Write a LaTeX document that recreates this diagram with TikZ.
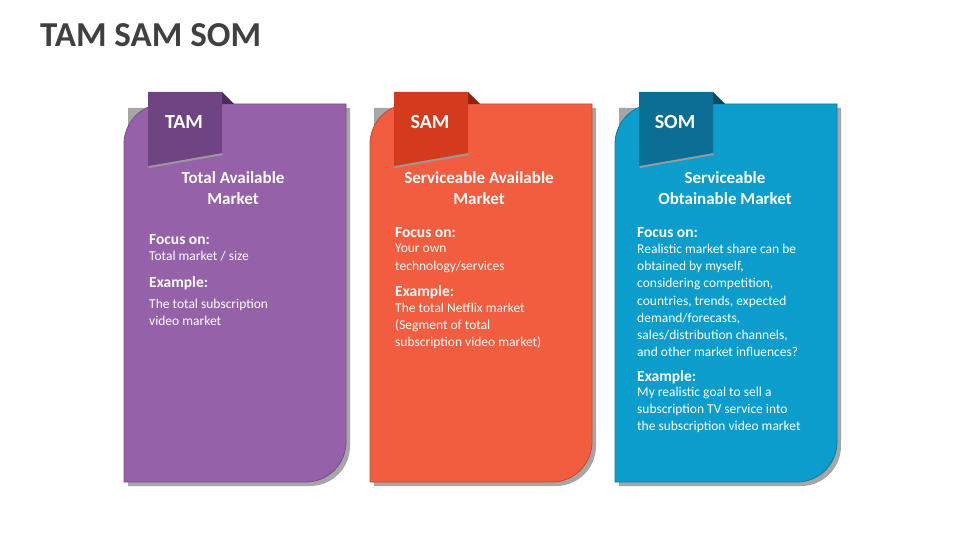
\documentclass[tikz,border=0pt]{standalone}
\usepackage{fontspec}
\setmainfont{Carlito}
\definecolor{tamc}{HTML}{9561A8}
\definecolor{tamt}{HTML}{6E4483}
\definecolor{tamf}{HTML}{4A2C5A}
\definecolor{samc}{HTML}{F15D3E}
\definecolor{samt}{HTML}{D43A1C}
\definecolor{samf}{HTML}{8E2410}
\definecolor{somc}{HTML}{0B9DCC}
\definecolor{somt}{HTML}{0B6E94}
\definecolor{somf}{HTML}{074A63}
\begin{document}
\begin{tikzpicture}[x=1pt,y=-1pt,
  head/.style={text=white,font=\bfseries\fontsize{17}{20.5}\selectfont,align=center},
  sub/.style={text=white,font=\bfseries\fontsize{15.5}{17}\selectfont,anchor=west,inner sep=0pt},
  body/.style={text=white,font=\fontsize{13.5}{17.2}\selectfont,align=left,anchor=north west,inner sep=0pt},
  tabtxt/.style={text=white,font=\bfseries\fontsize{20}{22}\selectfont}]
\useasboundingbox (0,0) rectangle (960,540);
\fill[white] (0,0) rectangle (960,540);
\node[anchor=west,inner sep=0pt,text=black!75,font=\bfseries\fontsize{35}{38}\selectfont] (title) at (40,35) {TAM SAM SOM};
\newcommand\mycard[5]{% x, fill, tab, fold, tabname
  \fill[black!35] (#1+4,108) -- (#1+226,108) -- (#1+226,446) arc[start angle=0,end angle=90,radius=40] -- (#1+4,486) -- cycle;
  \fill[#2] (#1+40,104) -- (#1+222,104) -- (#1+222,442) arc[start angle=0,end angle=90,radius=40] -- (#1,482) -- (#1,144) arc[start angle=180,end angle=270,radius=40] -- cycle;
  \draw[#2!80!black,line width=0.8pt] (#1+40,104) -- (#1+222,104) -- (#1+222,442) arc[start angle=0,end angle=90,radius=40] -- (#1,482) -- (#1,144) arc[start angle=180,end angle=270,radius=40] -- cycle;
  \fill[#4] (#1+98,92) -- (#1+110,104) -- (#1+98,104) -- cycle;
  \fill[black!40] (#1+24,166) -- (#1+98,153) -- (#1+99,155) -- (#1+25,168) -- cycle;
  \fill[#3] (#1+24,92) -- (#1+98,92) -- (#1+98,153) -- (#1+24,166) -- cycle;
  \node[tabtxt] (#5) at (#1+60,122) {#5};
}
\mycard{124}{tamc}{tamt}{tamf}{TAM}
\mycard{370}{samc}{samt}{samf}{SAM}
\mycard{615}{somc}{somt}{somf}{SOM}
% TAM
\node[head] (h1) at (233,188) {Total Available\\Market};
\node[sub] (f1) at (149,240) {Focus on:};
\node[body] (b1) at (149,251) {Total market / size};
\node[sub] (e1) at (149,283) {Example:};
\node[body] (x1) at (149,299) {The total subscription\\video market};
% SAM
\node[head] (h2) at (479,188) {Serviceable Available\\Market};
\node[sub] (f2) at (395,233) {Focus on:};
\node[body] (b2) at (395,244) {Your own\\technology/services};
\node[sub] (e2) at (395,292) {Example:};
\node[body] (x2) at (395,303) {The total Netflix market\\(Segment of total\\subscription video market)};
% SOM
\node[head] (h3) at (725,188) {Serviceable\\Obtainable Market};
\node[sub] (f3) at (637,233) {Focus on:};
\node[body] (b3) at (637,244) {Realistic market share can be\\obtained by myself,\\considering competition,\\countries, trends,  expected\\demand/forecasts,\\sales/distribution channels,\\and other market influences?};
\node[sub] (e3) at (637,377) {Example:};
\node[body] (x3) at (637,387) {My realistic goal to sell a\\subscription TV service into\\the subscription video market};
\end{tikzpicture}
\end{document}
